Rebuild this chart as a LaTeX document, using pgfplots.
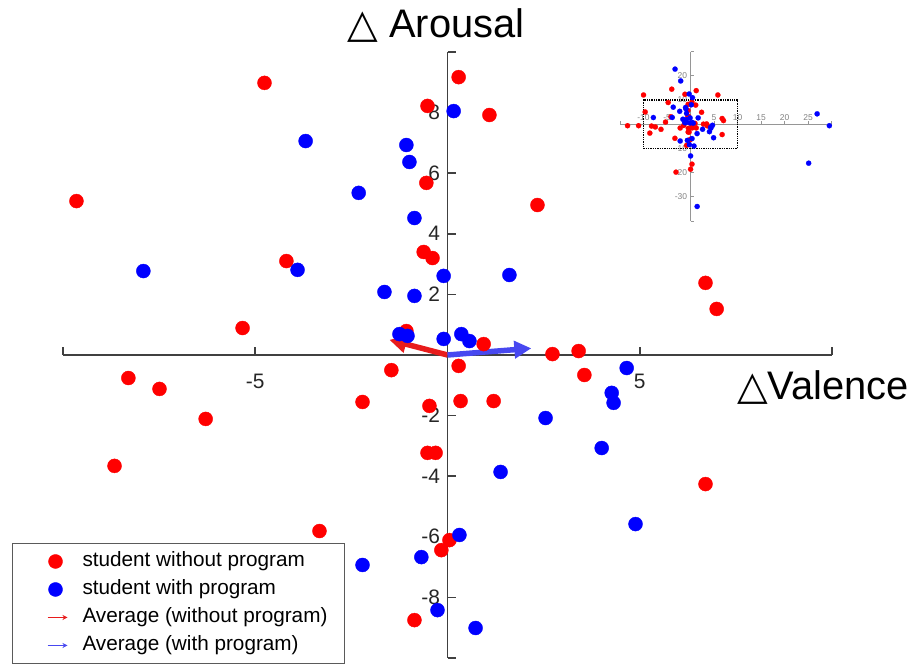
\documentclass[border=0pt]{standalone}
\usepackage{pgfplots}
\pgfplotsset{compat=1.18}
\usepackage{fontspec}
\setmainfont{Liberation Sans}
\newfontfamily\dejavu{DejaVu Sans}
\usetikzlibrary{arrows.meta}
\definecolor{axisgrey}{RGB}{64,64,64}
\definecolor{ticktext}{RGB}{38,38,38}
\definecolor{insetgrey}{RGB}{150,150,150}
\definecolor{insettext}{RGB}{130,130,130}
\definecolor{legendgrey}{RGB}{90,90,90}
\definecolor{arrowred}{RGB}{232,28,28}
\definecolor{arrowblue}{RGB}{72,72,240}
\definecolor{dotred}{RGB}{255,0,0}
\definecolor{dotblue}{RGB}{0,0,255}

\pgfplotsset{
  dotlegend/.style={legend image code/.code={\path[draw=none,fill=none] (0bp,-5bp) rectangle (49bp,5bp); \draw[##1] plot coordinates {(26bp,0bp)};}},
  redarrowlegend/.style={legend image code/.code={\path[draw=none,fill=none] (0bp,-5bp) rectangle (49bp,5bp); \draw[arrowred, line width=1.1bp, -{Stealth[length=5bp,width=5bp]}] (18bp,0bp) -- (38bp,0bp);}},
  bluearrowlegend/.style={legend image code/.code={\path[draw=none,fill=none] (0bp,-5bp) rectangle (49bp,5bp); \draw[arrowblue, line width=1.1bp, -{Stealth[length=5bp,width=5bp]}] (18bp,0bp) -- (38bp,0bp);}},
}

\pgfplotstableread{
x y
-9.65 5.08
-4.76 8.98
0.29 9.17
-0.52 8.22
1.09 7.92
-0.55 5.68
2.34 4.95
-0.62 3.40
-0.39 3.20
-4.19 3.10
6.71 2.38
7.00 1.52
-5.33 0.89
-1.07 0.79
0.94 0.36
2.73 0.03
3.41 0.13
-8.30 -0.76
-7.49 -1.12
-1.46 -0.50
0.29 -0.36
3.56 -0.66
-2.21 -1.55
-0.47 -1.68
0.34 -1.52
1.20 -1.52
-6.29 -2.11
-0.52 -3.23
-0.31 -3.23
-8.66 -3.66
6.71 -4.26
-3.33 -5.81
0.05 -6.11
-0.16 -6.44
-0.86 -8.75
}\redmain

\pgfplotstableread{
x y
-3.69 7.06
0.16 8.05
-1.07 6.93
-0.99 6.37
-2.31 5.35
-0.86 4.52
-7.91 2.77
-3.90 2.81
-0.10 2.61
1.61 2.64
-1.64 2.08
-0.86 1.95
-1.25 0.69
-1.04 0.63
-0.10 0.53
0.36 0.69
0.57 0.46
4.66 -0.43
4.27 -1.25
4.32 -1.58
2.55 -2.08
1.38 -3.86
4.01 -3.07
4.89 -5.58
0.31 -5.94
-2.21 -6.93
-0.68 -6.67
-0.26 -8.42
0.73 -9.01
}\bluemain

\pgfplotstableread{
x y
-13.4 -0.6
-11.05 -0.6
-10.0 12.1
-4.0 14.5
-1.2 12.4
1.2 13.9
5.8 12.1
0.3 -16.5
0.0 -18.6
-3.1 -19.8
}\redextra

\pgfplotstableread{
x y
-3.3 22.8
-2.1 17.9
-0.3 12.5
0.4 11.0
0.0 -13.1
1.4 -34.0
26.9 4.3
29.5 -0.6
25.1 -16.1
}\blueextra

\begin{document}
\begin{tikzpicture}[x=1bp,y=1bp]
\useasboundingbox (0,0) rectangle (918,665);
\begin{axis}[
  at={(63bp,7bp)}, anchor=south west,
  scale only axis, width=769bp, height=606bp,
  xmin=-10, xmax=10, ymin=-10, ymax=10,
  axis lines=middle,
  axis line style={-, line width=1.6bp, color=axisgrey},
  tick align=inside,
  major tick length=8bp,
  tick style={line width=1.6bp, color=axisgrey},
  xtick={-10,-5,5,10}, xticklabels={,-5,5,},
  ytick={-10,-8,-6,-4,-2,2,4,6,8,10},
  yticklabels={,-8,-6,-4,-2,2,4,6,8,},
  tick label style={font=\fontsize{21}{25}\selectfont, text=ticktext},
  xticklabel style={yshift=-16bp},
  yticklabel style={xshift=-4bp},
  clip=false,
  legend cell align=left,
  legend style={at={(-0.0663,0.1898)}, anchor=north west,
    draw=legendgrey, line width=1bp, fill=white,
    font=\fontsize{20.8}{25}\selectfont,
    inner xsep=17bp, inner ysep=8bp,
    nodes={inner sep=0pt, text height=15bp, text depth=5bp},
    column sep=4bp, row sep=8bp},
]
\addplot[only marks, mark=*, mark size=7bp, color=dotred, mark options={line width=0.4bp}, dotlegend]
  table[x=x,y=y] {\redmain};
\addlegendentry{student without program}
\addplot[only marks, mark=*, mark size=7bp, color=dotblue, mark options={line width=0.4bp}, dotlegend]
  table[x=x,y=y] {\bluemain};
\addlegendentry{student with program}
\addplot[arrowred, line width=5.5bp, -{Triangle[length=17bp,width=17bp]}, redarrowlegend]
  coordinates {(0,0) (-1.51,0.50)};
\addlegendentry{Average (without program)}
\addplot[arrowblue, line width=5.5bp, -{Triangle[length=17bp,width=17bp]}, bluearrowlegend]
  coordinates {(0,0) (2.18,0.22)};
\addlegendentry{Average (with program)}
\end{axis}

\begin{axis}[
  at={(620bp,444bp)}, anchor=south west,
  scale only axis, width=211.7bp, height=169.3bp,
  xmin=-15, xmax=30, ymin=-40, ymax=30,
  axis lines=middle,
  axis line style={-, line width=1bp, color=insetgrey},
  tick align=inside,
  major tick length=3bp,
  tick style={line width=0.8bp, color=insetgrey},
  xtick={-15,-10,-5,5,10,15,20,25,30}, xticklabels={,-10,-5,5,10,15,20,25,},
  ytick={-40,-30,-20,-10,10,20,30}, yticklabels={,-30,-20,-10,10,20,},
  tick label style={font=\fontsize{8.5}{10}\selectfont, text=insettext},
  xticklabel style={anchor=south, yshift=0.5bp},
  clip=false,
]
\addplot[only marks, mark=*, mark size=2.6bp, color=dotred, mark options={line width=0.2bp}] table[x=x,y=y] {\redmain};
\addplot[only marks, mark=*, mark size=2.6bp, color=dotred, mark options={line width=0.2bp}] table[x=x,y=y] {\redextra};
\addplot[only marks, mark=*, mark size=2.6bp, color=dotblue, mark options={line width=0.2bp}] table[x=x,y=y] {\bluemain};
\addplot[only marks, mark=*, mark size=2.6bp, color=dotblue, mark options={line width=0.2bp}] table[x=x,y=y] {\blueextra};
\addplot[black, densely dotted, line width=1.3bp] coordinates {(-10,-10) (10,-10) (10,10) (-10,10) (-10,-10)};
\end{axis}

\node[anchor=base, font=\fontsize{40}{48}\selectfont, inner sep=0pt] at (436,627) {{\dejavu △} Arousal};
\node[anchor=base, font=\fontsize{40}{48}\selectfont, inner sep=0pt] at (823,265) {{\dejavu △}Valence};
\end{tikzpicture}
\end{document}
